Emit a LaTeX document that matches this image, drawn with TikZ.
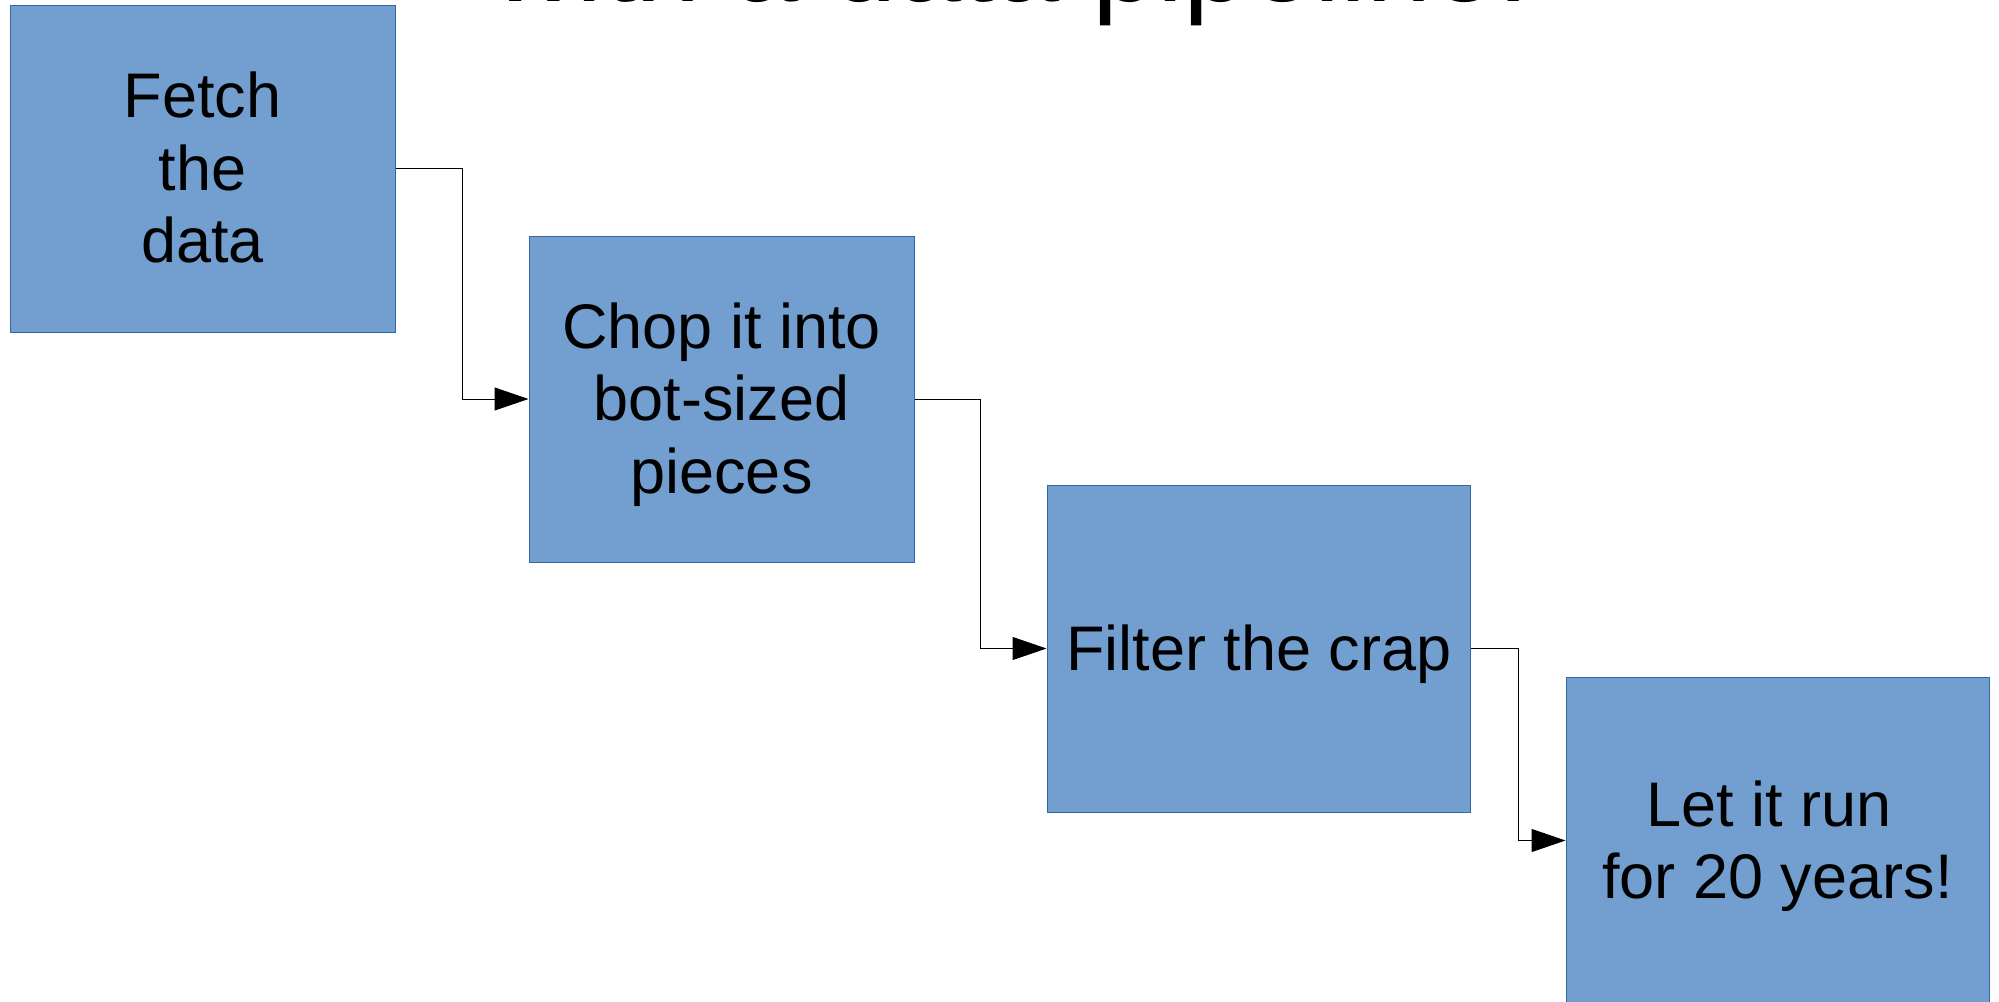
\documentclass[tikz,border=0pt]{standalone}
\usepackage{fontspec}
\setmainfont{Liberation Sans}
\usetikzlibrary{arrows.meta,calc}
\definecolor{boxfill}{HTML}{729FCF}
\definecolor{boxline}{HTML}{3465A4}
\newcommand\lotop{\rule{0pt}{0.905em}}
\newcommand\lobot{\rule[-0.212em]{0pt}{0.212em}}
\begin{document}
\begin{tikzpicture}[x=1pt,y=-1pt,
  stage/.style={draw=boxline, line width=1pt, fill=boxfill, inner sep=0pt,
    align=center, text=black, font=\fontsize{63}{72.4}\selectfont},
  flow/.style={draw=black, line width=1pt, line join=miter, -{Triangle[length=34pt,width=23pt]}}]
\useasboundingbox (0,0) rectangle (1999,1001);
\clip (0,0) rectangle (1999,1001);
\fill[white] (0,0) rectangle (1999,1001);
% title, mostly above the visible area (cut off as in the reference)
\node[anchor=base west, inner sep=0pt, font=\fontsize{117.4}{135}\selectfont] (title) at (492,1.5) {with a data pipeline!};
% stages
\node[stage, minimum width=385pt, minimum height=327pt] (b1) at (202.5,168.5) {\lotop Fetch\\the\\data\lobot};
\node[stage, minimum width=385pt, minimum height=326pt] (b2) at (721.5,399) {\lotop Chop it into\\bot-sized\\pieces\lobot};
\node[stage, minimum width=423.5pt, minimum height=327pt] (b3) at (1258.75,648.5) {\lotop Filter the crap\lobot};
\node[stage, minimum width=423pt, minimum height=327pt] (b4) at (1777.5,840.5) {\lotop Let it run\kern0.278em\\for 20 years!\lobot};
% bend points halfway between the boxes
\coordinate (m1) at ($(b1.east)!0.5!(b2.west)$);
\coordinate (m2) at ($(b2.east)!0.5!(b3.west)$);
\coordinate (m3) at ($(b3.east)!0.5!(b4.west)$);
% connectors
\draw[flow] (b1.east) -| (m1 |- b2.west) -- (b2.west);
\draw[flow] (b2.east) -| (m2 |- b3.west) -- (b3.west);
\draw[flow] (b3.east) -| (m3 |- b4.west) -- (b4.west);
\end{tikzpicture}
\end{document}
